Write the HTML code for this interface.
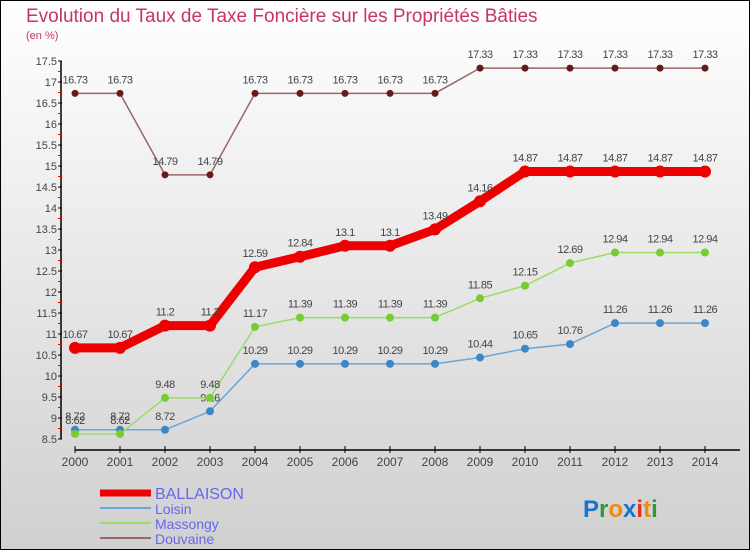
<!DOCTYPE html>
<html><head><meta charset="utf-8"><style>
html,body{margin:0;padding:0}
body{width:750px;height:550px;overflow:hidden;font-family:"Liberation Sans",sans-serif}
svg text{font-family:"Liberation Sans",sans-serif}
</style></head><body>
<svg id="chart" width="750" height="550" xmlns="http://www.w3.org/2000/svg">
<defs><linearGradient id="bg" x1="0" y1="0" x2="0" y2="1"><stop offset="0" stop-color="#ffffff"/><stop offset="1" stop-color="#d0d0d0"/></linearGradient></defs>
<rect x="0.5" y="0.5" width="749" height="549" fill="url(#bg)" stroke="#000"/>
<text x="26" y="22" font-size="19" fill="#c8336a">Evolution du Taux de Taxe Foncière sur les Propriétés Bâties</text>
<text x="26" y="39" font-size="11" fill="#c8336a">(en %)</text>
<g id="axes"></g><g id="series"></g>
<g>
<line x1="100" y1="493" x2="151" y2="493" stroke="#ee0000" stroke-width="7"/>
<text x="155" y="499" font-size="16" fill="#6666ee">BALLAISON</text>
<line x1="100" y1="508" x2="151" y2="508" stroke="#6aa6d6" stroke-width="2"/>
<text x="155" y="514" font-size="14" fill="#6666ee">Loisin</text>
<line x1="100" y1="523" x2="151" y2="523" stroke="#99dd66" stroke-width="2"/>
<text x="155" y="529" font-size="14" fill="#6666ee">Massongy</text>
<line x1="100" y1="538" x2="151" y2="538" stroke="#996666" stroke-width="2"/>
<text x="155" y="544" font-size="14" fill="#6666ee">Douvaine</text>
</g>
<text x="583" y="517" font-size="24" font-weight="bold"><tspan fill="#1a73c8">P</tspan><tspan fill="#2a9a3a">r</tspan><tspan fill="#f08a10">o</tspan><tspan fill="#1a73c8">x</tspan><tspan fill="#e83020">i</tspan><tspan fill="#f08a10">t</tspan><tspan fill="#2a9a3a">i</tspan></text>
</svg>
<script>
const years=[2000,2001,2002,2003,2004,2005,2006,2007,2008,2009,2010,2011,2012,2013,2014];
const ballaison=[10.67,10.67,11.2,11.2,12.59,12.84,13.1,13.1,13.49,14.16,14.87,14.87,14.87,14.87,14.87];
const loisin=[8.72,8.72,8.72,9.16,10.29,10.29,10.29,10.29,10.29,10.44,10.65,10.76,11.26,11.26,11.26];
const massongy=[8.62,8.62,9.48,9.48,11.17,11.39,11.39,11.39,11.39,11.85,12.15,12.69,12.94,12.94,12.94];
const douvaine=[16.73,16.73,14.79,14.79,16.73,16.73,16.73,16.73,16.73,17.33,17.33,17.33,17.33,17.33,17.33];
const yTicks=[8.5,9,9.5,10,10.5,11,11.5,12,12.5,13,13.5,14,14.5,15,15.5,16,16.5,17,17.5];
const NS="http://www.w3.org/2000/svg";
function X(i){return 75+i*(705-75)/(years.length-1);}
function Y(v){return 61+(17.5-v)*42;}
function mk(tag,attrs,parent){const e=document.createElementNS(NS,tag);for(const k in attrs)e.setAttribute(k,attrs[k]);parent.appendChild(e);return e;}
const axes=document.getElementById('axes'),ser=document.getElementById('series');
const ya=mk('line',{x1:61,y1:Y(17.5),x2:61,y2:Y(8.5),stroke:'#000','stroke-width':1.5},axes);


const xa=mk('line',{x1:75,y1:450,x2:740,y2:450,stroke:'#000','stroke-width':1.5},axes);


yTicks.forEach((t,k)=>{
 mk('line',{x1:58,y1:Y(t),x2:62,y2:Y(t),stroke:'#000'},axes);
 if(k>0) mk('line',{x1:58,y1:Y(t)+10.5,x2:61,y2:Y(t)+10.5,stroke:'#e00'},axes);
 const tx=mk('text',{x:57,y:Y(t)+4,'font-size':11,fill:'#444','text-anchor':'end'},axes);
 tx.textContent=String(t);
 
 
});
years.forEach((yr,i)=>{
 mk('line',{x1:X(i),y1:446,x2:X(i),y2:453,stroke:'#000'},axes);
 const tx=mk('text',{x:X(i),y:466,'font-size':12,fill:'#444','text-anchor':'middle'},axes);
 tx.textContent=String(yr);
 
 
});
function draw(vals,name,color,lw,r,dot){
 const g=mk('g',{},ser);
 
 
 const pl=mk('polyline',{points:vals.map((v,i)=>X(i)+','+Y(v)).join(' '),fill:'none',stroke:color,'stroke-width':lw,'stroke-linejoin':'round'},g);
 
 
 vals.forEach((v,i)=>{
  const c=mk('circle',{cx:X(i),cy:Y(v),r:r,fill:dot},g);
  
  
  const t=mk('text',{x:X(i),y:Y(v)-10,'font-size':11,fill:'#444','text-anchor':'middle','letter-spacing':'-0.5'},g);
  t.textContent=String(v);
  
  
 });
}
draw(douvaine,'douvaine','#996666',1.5,3.5,'#661a1a');
draw(loisin,'loisin','#6aa6d6',1.5,4,'#3a86c6');
draw(massongy,'massongy','#99dd66',1.5,4,'#77cc33');
draw(ballaison,'ballaison','#ee0000',9,6,'#ee0000');
</script>
</body></html>
